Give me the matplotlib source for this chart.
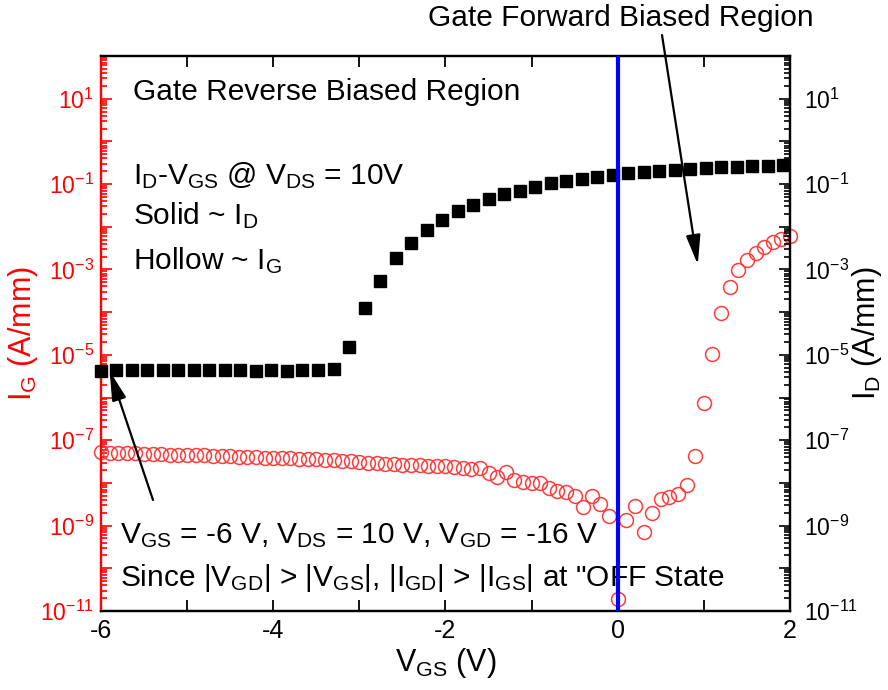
import numpy as np
import matplotlib
matplotlib.use('Agg')
import matplotlib.pyplot as plt
from matplotlib.ticker import LogLocator, FuncFormatter, MultipleLocator, NullFormatter

plt.rcParams['font.family'] = ['Liberation Sans', 'DejaVu Sans']
plt.rcParams['mathtext.fontset'] = 'custom'
plt.rcParams['mathtext.rm'] = 'Liberation Sans'
plt.rcParams['mathtext.it'] = 'Liberation Sans:italic'
plt.rcParams['mathtext.bf'] = 'Liberation Sans:bold'
plt.rcParams['axes.unicode_minus'] = False

#### I_D (solid squares)
vgs_d = [-6.0, -5.82, -5.64, -5.46, -5.28, -5.1, -4.92, -4.74, -4.56, -4.38,
         -4.2, -4.02, -3.84, -3.66, -3.48, -3.3, -3.12, -2.94, -2.76, -2.58,
         -2.4, -2.22, -2.04, -1.86, -1.68, -1.5, -1.32, -1.14, -0.96, -0.78,
         -0.6, -0.42, -0.24, -0.06, 0.12, 0.3, 0.48, 0.66, 0.84, 1.02,
         1.2, 1.38, 1.56, 1.74, 1.92]
id_vals = [4.3e-6, 4.4e-6, 4.4e-6, 4.4e-6, 4.4e-6, 4.4e-6, 4.4e-6, 4.4e-6, 4.4e-6, 4.4e-6,
           4.3e-6, 4.4e-6, 4.3e-6, 4.4e-6, 4.4e-6, 4.7e-6, 1.5e-5, 1.26e-4, 5.4e-4, 1.86e-3,
           4.2e-3, 8.5e-3, 1.45e-2, 2.35e-2, 3.2e-2, 4.5e-2, 5.9e-2, 6.9e-2, 8.5e-2, 1.07e-1,
           1.18e-1, 1.32e-1, 1.48e-1, 1.63e-1, 1.82e-1, 1.91e-1, 2.0e-1, 2.1e-1, 2.2e-1, 2.4e-1,
           2.5e-1, 2.5e-1, 2.6e-1, 2.65e-1, 2.8e-1]

#### I_G (hollow circles)
vgs_g = [-6.0, -5.9, -5.8, -5.7, -5.6, -5.5, -5.4, -5.3, -5.2, -5.1,
         -5.0, -4.9, -4.8, -4.7, -4.6, -4.5, -4.4, -4.3, -4.2, -4.1,
         -4.0, -3.9, -3.8, -3.7, -3.6, -3.5, -3.4, -3.3, -3.2, -3.1,
         -3.0, -2.9, -2.8, -2.7, -2.6, -2.5, -2.4, -2.3, -2.2, -2.1,
         -2.0, -1.9, -1.8, -1.7, -1.6, -1.5, -1.4, -1.3, -1.2, -1.1,
         -1.0, -0.9, -0.8, -0.7, -0.6, -0.5, -0.4, -0.3, -0.2, -0.1,
         0.0, 0.1, 0.2, 0.3, 0.4, 0.5, 0.6, 0.7, 0.8, 0.9,
         1.0, 1.1, 1.2, 1.3, 1.4, 1.5, 1.6, 1.7, 1.8, 1.9, 2.0]
ig_vals = [5.2e-8, 5.1e-8, 5.0e-8, 5.0e-8, 4.9e-8, 4.8e-8, 4.8e-8, 4.7e-8, 4.6e-8, 4.6e-8,
           4.5e-8, 4.4e-8, 4.4e-8, 4.3e-8, 4.3e-8, 4.2e-8, 4.1e-8, 4.1e-8, 4.0e-8, 3.9e-8,
           3.9e-8, 3.8e-8, 3.8e-8, 3.7e-8, 3.7e-8, 3.6e-8, 3.5e-8, 3.4e-8, 3.3e-8, 3.2e-8,
           3.1e-8, 3.0e-8, 2.9e-8, 2.8e-8, 2.75e-8, 2.7e-8, 2.6e-8, 2.6e-8, 2.5e-8, 2.5e-8,
           2.5e-8, 2.35e-8, 2.25e-8, 2.1e-8, 2.25e-8, 1.7e-8, 1.4e-8, 1.8e-8, 1.2e-8, 1.05e-8,
           1.0e-8, 1.0e-8, 7.6e-9, 6.5e-9, 6.2e-9, 5.0e-9, 2.75e-9, 5.0e-9, 3.2e-9, 1.7e-9,
           1.9e-11, 1.35e-9, 2.9e-9, 7.1e-10, 2.0e-9, 4.3e-9, 4.7e-9, 5.5e-9, 8.9e-9, 4.3e-8,
           7.4e-7, 1.05e-5, 9.5e-5, 3.9e-4, 9.8e-4, 1.7e-3, 2.4e-3, 3.4e-3, 4.4e-3, 5.1e-3, 6.0e-3]

fig = plt.figure(figsize=(8.88, 6.9), dpi=100)
ax = fig.add_axes([0.1137, 0.1145, 0.7759, 0.8043])
ax2 = ax.twinx()

for a in (ax, ax2):
    a.set_yscale('log')
    a.set_ylim(1e-11, 1e2)
    a.set_xlim(-6, 2)
    a.yaxis.set_major_locator(LogLocator(base=10, numticks=30))
    a.yaxis.set_minor_locator(LogLocator(base=10, subs=np.arange(2, 10), numticks=100))
    a.yaxis.set_minor_formatter(NullFormatter())
    a.yaxis.set_major_formatter(FuncFormatter(
        lambda v, p: r'$\mathregular{10^{%d}}$' % round(np.log10(v)) if round(np.log10(v)) % 2 else ''))
    for s in a.spines.values():
        s.set_linewidth(1.6)

ax.spines['left'].set_color('red')
ax2.spines['left'].set_color('red')

ax.xaxis.set_major_locator(MultipleLocator(2))
ax.xaxis.set_minor_locator(MultipleLocator(1))
ax.tick_params(axis='x', which='both', direction='in', top=True, labelsize=18, pad=6, width=1.3)
ax.tick_params(axis='x', which='major', length=8)
ax.tick_params(axis='x', which='minor', length=8)
ax.tick_params(axis='y', which='both', direction='in', colors='red', labelsize=16.5, pad=5, width=1.2)
ax.tick_params(axis='y', which='major', length=8)
ax.tick_params(axis='y', which='minor', length=4)
ax2.tick_params(axis='y', which='both', direction='in', colors='black', labelsize=16.5, pad=10, width=1.2)
ax2.tick_params(axis='y', which='major', length=8)
ax2.tick_params(axis='y', which='minor', length=4)

ax.set_xlabel(r'V$_{\rm GS}$ (V)', fontsize=22, labelpad=2)
ax.set_ylabel(r'I$_{\rm G}$ (A/mm)', fontsize=22, color='red', labelpad=0)
ax2.set_ylabel(r'I$_{\rm D}$ (A/mm)', fontsize=22, color='black', labelpad=-6)

ax.plot(vgs_g, ig_vals, 'o', ms=10, mfc='none', mec='#ff3c3c', mew=1.1, clip_on=False, zorder=3)
ax2.plot(vgs_d, id_vals, 's', ms=9, color='black', clip_on=False, zorder=3)
ax2.axvline(0, color='#0000ff', lw=3, zorder=4)

fs = 21.5
ax2.text(133 / 888, 1 - 100 / 690, 'Gate Reverse Biased Region', transform=fig.transFigure, fontsize=fs)
ax2.text(133 / 888, 1 - 184 / 690, r'I$_{\rm D}$-V$_{\rm GS}$ @ V$_{\rm DS}$ = 10V', transform=fig.transFigure, fontsize=fs)
ax2.text(133 / 888, 1 - 224 / 690, r'Solid ~ I$_{\rm D}$', transform=fig.transFigure, fontsize=fs)
ax2.text(133 / 888, 1 - 269 / 690, r'Hollow ~ I$_{\rm G}$', transform=fig.transFigure, fontsize=fs)
ax2.text(120 / 888, 1 - 543 / 690, r'V$_{\rm GS}$ = -6 V, V$_{\rm DS}$ = 10 V, V$_{\rm GD}$ = -16 V',
         transform=fig.transFigure, fontsize=fs)
ax2.text(120 / 888, 1 - 586 / 690,
         r'Since |V$_{\rm GD}$| > |V$_{\rm GS}$|, |I$_{\rm GD}$| > |I$_{\rm GS}$| at "OFF State',
         transform=fig.transFigure, fontsize=fs)
fig.text(428 / 888, 1 - 26 / 690, 'Gate Forward Biased Region', fontsize=fs)

arw = dict(arrowstyle='-|>,head_width=0.22,head_length=0.9', color='black', lw=1.6,
           shrinkA=0, shrinkB=0, mutation_scale=20)
ax2.annotate('', xy=(0.93, 1.3e-3), xycoords='data',
             xytext=(662 / 888, 1 - 35 / 690), textcoords='figure fraction',
             arrowprops=arw, annotation_clip=False, zorder=5)
ax2.annotate('', xy=(-5.9, 4.2e-6), xycoords='data',
             xytext=(153 / 888, 1 - 500 / 690), textcoords='figure fraction',
             arrowprops=arw, annotation_clip=False, zorder=5)

fig.savefig('out.png', dpi=100)
